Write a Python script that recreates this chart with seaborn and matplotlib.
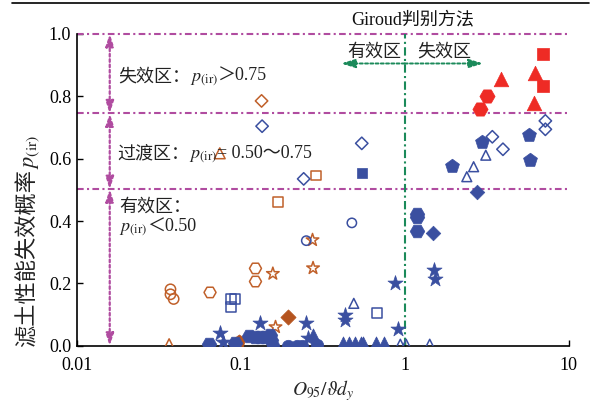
import matplotlib
matplotlib.use("Agg")
import matplotlib.pyplot as plt
import seaborn as sns
import numpy as np
from matplotlib.lines import Line2D

sns.set_theme(style="white")
plt.rcParams['font.family'] = ['Liberation Serif', 'Noto Sans CJK SC']
plt.rcParams['mathtext.fontset'] = 'stix'

# ---------------- data ----------------
or_circle_x = [0.0373, 0.0373, 0.039]
or_circle_y = [0.181, 0.165, 0.150]
or_hex_x = [0.065, 0.123, 0.123]
or_hex_y = [0.171, 0.248, 0.206]
or_star_x = [0.157, 0.276, 0.274, 0.163]
or_star_y = [0.231, 0.249, 0.339, 0.060]
or_square_x = [0.169, 0.287, 0.083]
or_square_y = [0.460, 0.546, 0.0]
or_diamond_x = [0.134]
or_diamond_y = [0.785]
or_tri_x = [0.0745, 0.0366]
or_tri_y = [0.617, 0.005]
or_fdiamond_x = [0.194]
or_fdiamond_y = [0.091]
or_fpent_x = [0.098]
or_fpent_y = [0.016]

bl_diamond_x = [0.135, 0.242, 0.547, 3.42, 3.97, 7.2, 7.2]
bl_diamond_y = [0.704, 0.535, 0.649, 0.670, 0.630, 0.721, 0.694]
bl_square_x = [0.0875, 0.092, 0.0875, 0.68]
bl_square_y = [0.149, 0.149, 0.124, 0.106]
bl_circle_x = [0.251, 0.476]
bl_circle_y = [0.337, 0.394]
bl_tri_x = [0.489, 0.94, 1.02, 1.42, 2.39, 2.63, 3.12]
bl_tri_y = [0.136, 0.005, 0.005, 0.005, 0.542, 0.574, 0.611]
bl_fsquare_x = [0.547]
bl_fsquare_y = [0.553]
bl_fdiamond_x = [1.49, 2.74]
bl_fdiamond_y = [0.360, 0.494]
bl_fpent_x = [1.94, 2.94, 5.73, 5.80]
bl_fpent_y = [0.576, 0.653, 0.675, 0.597]
bl_fstar_x = [0.075, 0.078, 0.131, 0.249, 0.257, 0.431, 0.431, 0.869, 0.91, 1.50, 1.52]
bl_fstar_y = [0.042, 0.013, 0.072, 0.072, 0.026, 0.100, 0.082, 0.200, 0.053, 0.243, 0.213]
bl_ftri_x = [0.276, 0.42, 0.46, 0.50, 0.54, 0.56, 0.67, 0.75]
bl_ftri_y = [0.036, 0.010, 0.010, 0.010, 0.010, 0.010, 0.010, 0.010]
bl_fhex_x = [0.064, 0.092, 0.112, 0.122, 0.131, 0.140, 0.150, 0.153, 1.195, 1.195, 1.195]
bl_fhex_y = [0.005, 0.008, 0.030, 0.028, 0.028, 0.028, 0.033, 0.018, 0.424, 0.412, 0.369]
bl_fcircle_x = [0.157, 0.195, 0.220, 0.235, 0.290]
bl_fcircle_y = [0.0, 0.0, 0.0, 0.0, 0.003]

rd_square_x = [6.97, 6.97]
rd_square_y = [0.935, 0.832]
rd_tri_x = [3.85, 6.2, 6.15]
rd_tri_y = [0.854, 0.873, 0.777]
rd_hex_x = [2.87, 3.18]
rd_hex_y = [0.758, 0.800]

xticks = [0.01, 0.1, 1, 10]
xtick_labels = ["0.01", "0.1", "1", "10"]
yticks = [0.0, 0.2, 0.4, 0.6, 0.8, 1.0]
ytick_labels = ["0.0", "0.2", "0.4", "0.6", "0.8", "1.0"]
zone_lines = [1.0, 0.745, 0.502]

ORANGE = "#C0602A"
ORANGE_F = "#B5541F"
BLUE = "#3A4FA0"
RED = "#EE2B25"
MAGENTA = "#B04CA0"
GREEN = "#1B8A5A"
TXT = "#222222"
PIR = "$p_{\\rm (ir)}$"

fig = plt.figure(figsize=(5.9, 4.03), dpi=100)
ax = fig.add_axes([0.130, 0.142, 0.834, 0.774])

def open_pts(x, y, m, c, s=55):
    sns.scatterplot(x=x, y=y, marker=m, s=s, facecolor="none", edgecolor=c,
                    linewidth=1.1, ax=ax, zorder=3)

def fill_pts(x, y, m, c, s=80):
    sns.scatterplot(x=x, y=y, marker=m, s=s, color=c, edgecolor=c,
                    linewidth=0.5, ax=ax, zorder=3)

open_pts(or_circle_x, or_circle_y, "o", ORANGE)
open_pts(or_hex_x, or_hex_y, "H", ORANGE, 75)
open_pts(or_star_x, or_star_y, "*", ORANGE, 90)
open_pts(or_square_x, or_square_y, "s", ORANGE, 50)
open_pts(or_diamond_x, or_diamond_y, "D", ORANGE, 40)
open_pts(or_tri_x, or_tri_y, "^", ORANGE, 60)
fill_pts(or_fdiamond_x, or_fdiamond_y, "D", ORANGE_F, 60)
fill_pts(or_fpent_x, or_fpent_y, "p", ORANGE_F, 90)

open_pts(bl_diamond_x, bl_diamond_y, "D", BLUE, 40)
open_pts(bl_square_x, bl_square_y, "s", BLUE, 50)
open_pts(bl_circle_x, bl_circle_y, "o", BLUE, 45)
open_pts(bl_tri_x, bl_tri_y, "^", BLUE, 50)
fill_pts(bl_fsquare_x, bl_fsquare_y, "s", BLUE, 50)
fill_pts(bl_fdiamond_x, bl_fdiamond_y, "D", BLUE, 55)
fill_pts(bl_fpent_x, bl_fpent_y, "p", BLUE, 110)
fill_pts(bl_fstar_x, bl_fstar_y, "*", BLUE, 130)
fill_pts(bl_ftri_x, bl_ftri_y, "^", BLUE, 90)
fill_pts(bl_fhex_x, bl_fhex_y, "H", BLUE, 110)
fill_pts(bl_fcircle_x, bl_fcircle_y, "o", BLUE, 80)

fill_pts(rd_square_x, rd_square_y, "s", RED, 70)
fill_pts(rd_tri_x, rd_tri_y, "^", RED, 110)
fill_pts(rd_hex_x, rd_hex_y, "H", RED, 120)

ax.set_xscale("log")
ax.set_xlim(0.01, 10)
ax.set_ylim(0, 1.0)
ax.set_xticks(xticks)
ax.set_xticklabels(xtick_labels)
ax.xaxis.set_minor_locator(matplotlib.ticker.NullLocator())
ax.set_yticks(yticks)
ax.set_yticklabels(ytick_labels)
ax.tick_params(direction="in", length=4, width=1.0, colors="black",
               labelsize=13, left=True, bottom=True, pad=4)
ax.tick_params(axis="x", pad=8)
for sp in ["top", "right"]:
    ax.spines[sp].set_visible(False)
for sp in ["left", "bottom"]:
    ax.spines[sp].set_color("black")
    ax.spines[sp].set_linewidth(1.2)

# zone lines
dashdot = (0, (3.2, 1.6, 1.0, 1.6))
for yl in zone_lines:
    ax.axhline(yl, color=MAGENTA, lw=1.5, ls=dashdot, zorder=1, clip_on=False)
ax.axvline(1, ymin=0, ymax=1, color=GREEN, lw=1.5, ls=(0, (4, 1.6, 1.0, 1.6)), zorder=1)

# magenta double arrows
xa = 0.0159
segs = [(1.0, 0.745), (0.745, 0.502), (0.502, 0.0)]
for y0, y1 in segs:
    ax.annotate("", xy=(xa, y0), xytext=(xa, y1),
                arrowprops=dict(arrowstyle="<|-|>,head_length=0.6,head_width=0.2",
                                color=MAGENTA, lw=1.6, ls=(0, (1.2, 1.2)),
                                shrinkA=0, shrinkB=0))

# green arrows
for xt in (0.41, 3.0):
    ax.annotate("", xy=(xt, 0.905), xytext=(1.0, 0.905),
                arrowprops=dict(arrowstyle="-|>,head_length=0.7,head_width=0.22",
                                color=GREEN, lw=1.4, ls=(0, (1.5, 1.2)),
                                shrinkA=0, shrinkB=0))

# mixed Chinese / math texts, chained piece by piece on a common baseline
def mixed(x, y, parts, fs=13):
    t = ax.text(x, y, parts[0], fontsize=fs, ha="left", va="baseline", color=TXT)
    for p in parts[1:]:
        t = ax.annotate(p, xy=(1, y), xycoords=(t, "data"), fontsize=fs,
                        ha="left", va="baseline", color=TXT)
    return t

mixed(0.0178, 0.848, ["失效区：", PIR, "＞0.75"])
mixed(0.0176, 0.602, ["过渡区：", PIR, "= 0.50～0.75"])
mixed(0.0182, 0.430, ["有效区："])
mixed(0.0182, 0.366, [PIR, "＜0.50"])

ax.text(0.656, 0.942, "有效区", fontsize=13, ha="center", va="center", color=TXT)
ax.text(1.75, 0.942, "失效区", fontsize=13, ha="center", va="center", color=TXT)
ax.text(1.12, 1.044, "Giroud判别方法", fontsize=13, ha="center", va="center", color="#111111")

ax.set_xlabel("$O_{95}/\\vartheta d_y$", fontsize=14, labelpad=3)

# y label: Chinese part + math part chained upward
yl1 = fig.text(34 / 590, 56 / 403, "滤土性能失效概率", fontsize=16, rotation=90,
               rotation_mode="anchor", ha="left", va="baseline", color=TXT)
ax.annotate(PIR, xy=(34 / 590, 1), xycoords=("figure fraction", yl1), fontsize=16,
            rotation=90, rotation_mode="anchor", ha="left", va="baseline",
            color=TXT, annotation_clip=False)

fig.add_artist(Line2D([0.02, 0.998], [0.993, 0.993], color="black", lw=1.2,
                      transform=fig.transFigure))

fig.savefig("out.png", dpi=100)
